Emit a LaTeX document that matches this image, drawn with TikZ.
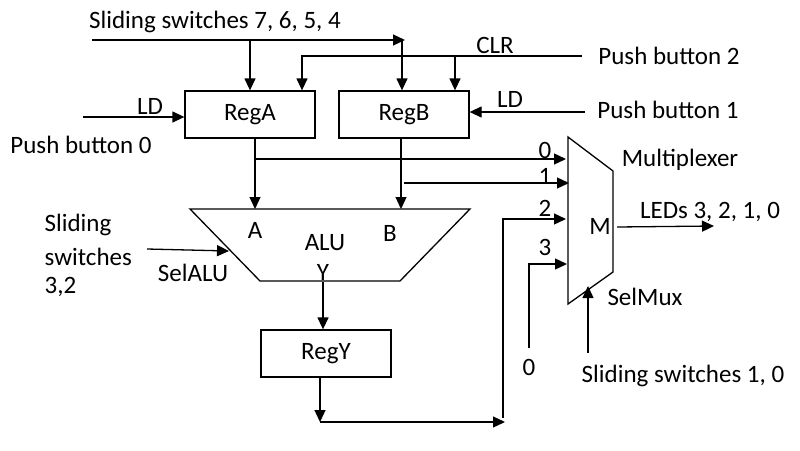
\documentclass[tikz,border=0pt]{standalone}
\usepackage{fontspec}
\setmainfont{Carlito}
\usetikzlibrary{arrows.meta,calc}
\begin{document}
\begin{tikzpicture}[x=1pt,y=-1pt,line width=1.3pt,
  >={Triangle[length=12pt,width=11pt]},
  font=\fontsize{25}{30}\selectfont,
  reg/.style={draw,minimum width=130pt,minimum height=47pt,inner sep=0pt},
  lbl/.style={inner sep=0pt,anchor=center}]
\useasboundingbox (0,0) rectangle (800,450);
% registers
\node[reg] (rega) at (250,114.5) {RegA};
\node[reg] (regb) at (404,114.5) {RegB};
\node[reg] (regy) at (326,353.5) {RegY};
% ALU
\coordinate (alu1) at (190,209);
\coordinate (alu2) at (470,209);
\coordinate (alu3) at (400,281);
\coordinate (alu4) at (260,281);
\draw (alu1) -- (alu2) -- (alu3) -- (alu4) -- cycle;
% MUX
\coordinate (mx1) at (568,137);
\coordinate (mx2) at (613,171);
\coordinate (mx3) at (613,272);
\coordinate (mx4) at (568,304);
\draw (mx1) -- (mx2) -- (mx3) -- (mx4) -- cycle;
% texts
\node[lbl] (tsw7) at (215,22) {Sliding switches 7, 6, 5, 4};
\node[lbl] (tclr) at (495,45) {CLR};
\node[lbl] (tpb2) at (669,56) {Push button 2};
\node[lbl] (tlda) at (150,106) {LD};
\node[lbl] (tldb) at (510,99) {LD};
\node[lbl] (tpb1) at (668,110) {Push button 1};
\node[lbl] (tpb0) at (81,145) {Push button 0};
\node[lbl] (tmux) at (680,160) {Multiplexer};
\node[lbl] (t0) at (545,150) {0};
\node[lbl] (t1) at (545,176) {1};
\node[lbl] (t2) at (545,208) {2};
\node[lbl] (t3) at (545,247) {3};
\node[lbl] (tm) at (600,226) {M};
\node[lbl] (tled) at (710,212) {LEDs 3, 2, 1, 0};
\node[lbl] (ta) at (255,230) {A};
\node[lbl] (talu) at (325,243) {ALU};
\node[lbl] (tb) at (390,233) {B};
\node[lbl] (ty) at (323,272) {Y};
\node[lbl] (tsela) at (193,273) {SelALU};
\node[lbl,anchor=west] (tsl1) at (44,225) {Sliding};
\node[lbl,anchor=west] (tsl2) at (44,257) {switches};
\node[lbl,anchor=west] (tsl3) at (44,287) {3,2};
\node[lbl] (tselm) at (645,297) {SelMux};
\node[lbl] (tzero) at (529,367) {0};
\node[lbl] (tsw10) at (683,376) {Sliding switches 1, 0};
% coordinates
\coordinate (s1) at (92,40);
\coordinate (s2) at (402,40);
\coordinate (clrR) at (582,56);
\coordinate (clrL) at (302,56);
\coordinate (clrB) at (455,56);
\coordinate (ldA) at (83,117);
\coordinate (ldB) at (585,112);
\coordinate (aIn) at (255,209);
\coordinate (bIn) at (401,209);
\coordinate (m0) at (566,159);
\coordinate (m1) at (569,183);
\coordinate (m2) at (566,219);
\coordinate (m3) at (567,264);
\coordinate (fb) at (503,219);
\coordinate (fbb) at (503,418);
\coordinate (ry) at (320,422);
\coordinate (c3) at (529,264);
\coordinate (c3b) at (529,348);
\coordinate (selB) at (588,353);
\coordinate (selT) at (588,286);
\coordinate (mOut) at (617,227);
\coordinate (led) at (714,226);
\coordinate (saL) at (147,249);
\coordinate (saR) at (229,251);
\coordinate (yOut) at (323,282);
% connectors
\draw[->] (s1) -- ($(s2)+(3,0)$);
\draw[->] (s2) -- (s2 |- regb.north);
\draw[->] (rega.north |- s1) -- (rega.north);
\draw[->] (clrR) -- (clrL) -- (clrL |- rega.north);
\draw[->] (clrB) -- (clrB |- regb.north);
\draw[->] (ldA) -- (rega.west |- ldA);
\draw[->] (ldB) -- (regb.east |- ldB);
\draw[->] (rega.south -| aIn) -- (aIn);
\draw[->] (aIn |- m0) -- (m0);
\draw[->] (regb.south -| bIn) -- (bIn);
\draw[->] ($(bIn |- m1)+(3,0)$) -- (m1);
\draw[->] (fbb) -- (fb) -- (m2);
\draw[->] (regy.south -| ry) -- (ry);
\draw[->] (ry) -- ($(fbb |- ry)+(2,0)$);
\draw[->] (c3b) -- (c3) -- (m3);
\draw[->] (selB) -- (selT);
\draw[->] (mOut) -- (led);
\draw[->] (saL) -- (saR);
\draw[->] (yOut) -- (regy.north -| yOut);
\end{tikzpicture}
\end{document}
